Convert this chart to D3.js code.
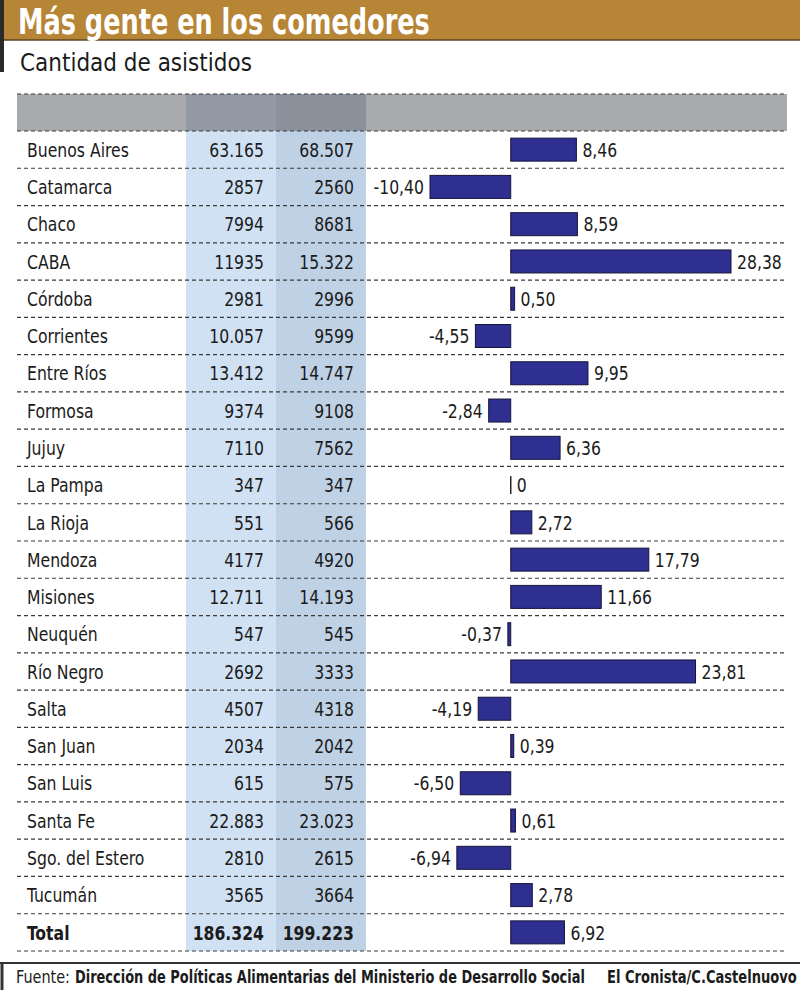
<!DOCTYPE html>
<html>
<head>
<meta charset="utf-8">
<script src="https://cdn.jsdelivr.net/npm/d3@7"></script>
<style>
  body { margin: 0; background: #fff; }
  svg { display: block; }
  text { font-family: "DejaVu Sans Condensed", "Liberation Sans Narrow", sans-serif; fill: #1b1b1b; }
</style>
</head>
<body>
<div id="chart_area"></div>
<script>
// Data
var provincias = ["Buenos Aires", "Catamarca", "Chaco", "CABA", "Córdoba", "Corrientes", "Entre Ríos",
  "Formosa", "Jujuy", "La Pampa", "La Rioja", "Mendoza", "Misiones", "Neuquén", "Río Negro", "Salta",
  "San Juan", "San Luis", "Santa Fe", "Sgo. del Estero", "Tucumán", "Total"];
var asistidosAntes = ["63.165", "2857", "7994", "11935", "2981", "10.057", "13.412", "9374", "7110", "347",
  "551", "4177", "12.711", "547", "2692", "4507", "2034", "615", "22.883", "2810", "3565", "186.324"];
var asistidosAhora = ["68.507", "2560", "8681", "15.322", "2996", "9599", "14.747", "9108", "7562", "347",
  "566", "4920", "14.193", "545", "3333", "4318", "2042", "575", "23.023", "2615", "3664", "199.223"];
var variacion = [8.46, -10.40, 8.59, 28.38, 0.50, -4.55, 9.95, -2.84, 6.36, 0, 2.72, 17.79, 11.66, -0.37,
  23.81, -4.19, 0.39, -6.50, 0.61, -6.94, 2.78, 6.92];

var W = 800, H = 990;
var svg = d3.select("#chart_area").append("svg").attr("width", W).attr("height", H);

// squeeze text horizontally to mimic the narrow newspaper font
function squeeze(sel, k) {
  sel.each(function() {
    var len = this.getComputedTextLength();
    d3.select(this).attr("textLength", len * k).attr("lengthAdjust", "spacingAndGlyphs");
  });
}
// fit a text into a given width with a horizontal scale (x, y = anchor point)
function fitText(t, x, y, width) {
  var len = t.node().getComputedTextLength();
  t.attr("x", 0).attr("y", 0)
    .attr("transform", "translate(" + x + "," + y + ") scale(" + (width / len) + ",1)");
  return t;
}

// Title band
svg.append("rect").attr("x", 0).attr("y", 0).attr("width", W).attr("height", 40).attr("fill", "#b78536");
svg.append("line").attr("x1", 0).attr("x2", W).attr("y1", 40).attr("y2", 40)
  .attr("stroke", "#5b4424").attr("stroke-width", 1.5);
svg.append("rect").attr("x", 0).attr("y", 0).attr("width", 4).attr("height", 72).attr("fill", "#2a2a2a");
var title = svg.append("text").text("Más gente en los comedores")
  .style("font-size", "35px").style("font-weight", "bold").style("fill", "#fff");
fitText(title, 18, 34, 412);
var subtitle = svg.append("text").text("Cantidad de asistidos").style("font-size", "25px");
fitText(subtitle, 20, 71, 232);

// Scales
var yScale = d3.scaleBand().domain(provincias).range([131, 951]);
var xScale = d3.scaleLinear().domain([-10.40, 28.38]).range([430, 731]);
var fmt = d3.formatLocale({decimal: ",", thousands: ".", grouping: [3], currency: ["", ""], minus: "-"}).format(".2f");

// Header band
var header = svg.append("g");
header.append("rect").attr("x", 17).attr("y", 94).attr("width", 770).attr("height", 37).attr("fill", "#a8aaad");
header.append("rect").attr("x", 186).attr("y", 94).attr("width", 90).attr("height", 37).attr("fill", "#939aa5");
header.append("rect").attr("x", 276).attr("y", 94).attr("width", 90).attr("height", 37).attr("fill", "#8b929c");

// Column backgrounds
svg.append("rect").attr("x", 186).attr("y", 131).attr("width", 90).attr("height", 820).attr("fill", "#d0e1f3");
svg.append("rect").attr("x", 276).attr("y", 131).attr("width", 90).attr("height", 820).attr("fill", "#bfd1e5");

// Dashed separators
var sepY = [94].concat(provincias.map(function(d) { return yScale(d); }), [951]);
svg.selectAll(".sep").data(sepY).enter().append("line").attr("class", "sep")
  .attr("x1", 17).attr("x2", 786)
  .attr("y1", function(d) { return d; }).attr("y2", function(d) { return d; })
  .attr("stroke", "#3a3a3a").attr("stroke-width", 1.2).attr("stroke-dasharray", "4,3");

var rows = svg.selectAll(".row").data(provincias).enter().append("g").attr("class", "row")
  .attr("transform", function(d) { return "translate(0," + (yScale(d) + yScale.bandwidth() / 2) + ")"; });

function isTotal(d) { return d === "Total" ? "bold" : "normal"; }

rows.append("text").attr("class", "cell").attr("x", 27).attr("dy", "0.36em").text(function(d) { return d; })
  .style("font-weight", isTotal);

rows.append("text").attr("class", "cell").attr("x", 264).attr("dy", "0.36em").attr("text-anchor", "end")
  .text(function(d, i) { return asistidosAntes[i]; })
  .style("font-weight", isTotal);

rows.append("text").attr("class", "cell").attr("x", 354).attr("dy", "0.36em").attr("text-anchor", "end")
  .text(function(d, i) { return asistidosAhora[i]; })
  .style("font-weight", isTotal);

// Bars
var barH = 23;
rows.each(function(d, i) {
  var g = d3.select(this), v = variacion[i], x0 = xScale(0), x1 = xScale(v);
  if (v === 0) {
    g.append("line").attr("x1", x0).attr("x2", x0).attr("y1", -9).attr("y2", 9)
      .attr("stroke", "#222").attr("stroke-width", 1.5);
  } else {
    g.append("rect").attr("x", Math.min(x0, x1)).attr("y", -barH / 2)
      .attr("width", Math.abs(x1 - x0)).attr("height", barH)
      .attr("fill", "#2e2f90").attr("stroke", "#15153a").attr("stroke-width", 1);
  }
  g.append("text").attr("class", "cell").attr("dy", "0.36em")
    .attr("x", v < 0 ? Math.min(x0, x1) - 6 : Math.max(x0, x1) + 6)
    .attr("text-anchor", v < 0 ? "end" : "start")
    .text(v === 0 ? "0" : fmt(v));
});

svg.selectAll(".cell").style("font-size", "20px").call(squeeze, 0.87);

// Footer
svg.append("line").attr("x1", 0).attr("x2", W).attr("y1", 963).attr("y2", 963)
  .attr("stroke", "#333").attr("stroke-width", 2);
svg.append("line").attr("x1", 2).attr("x2", 2).attr("y1", 963).attr("y2", H)
  .attr("stroke", "#333").attr("stroke-width", 3);
var fuente = svg.append("text").style("font-size", "17px").text("Fuente:");
fitText(fuente, 16, 983, 54);
var organismo = svg.append("text").style("font-size", "17px").style("font-weight", "bold")
  .text("Dirección de Políticas Alimentarias del Ministerio de Desarrollo Social");
fitText(organismo, 75, 983, 510);
var firma = svg.append("text").style("font-size", "17px").style("font-weight", "bold")
  .text("El Cronista/C.Castelnuovo");
fitText(firma, 607, 983, 190);
</script>
</body>
</html>
